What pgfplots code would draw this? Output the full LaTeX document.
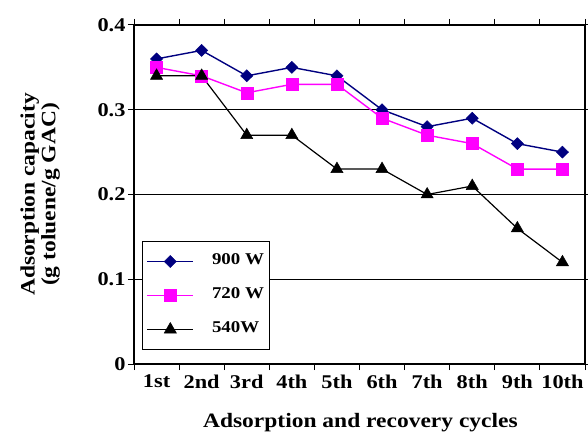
\documentclass[border=0pt]{standalone}
\usepackage{fontspec}
\setmainfont{Liberation Serif}[FakeStretch=1.15]
\usepackage{pgfplots}
\pgfplotsset{compat=1.18}
\definecolor{navyline}{HTML}{000080}
\definecolor{magline}{HTML}{FF00FF}

\begin{document}
\begin{tikzpicture}
\path[use as bounding box] (-134bp,-71bp) rectangle (454bp,364bp);
\begin{axis}[
    at={(0,0)}, anchor=south west,
    scale only axis,
    width=451bp, height=339bp,
    xmin=0.5, xmax=10.5,
    ymin=0, ymax=0.4,
    xtick={1,...,10},
    xticklabels={1st,2nd,3rd,4th,5th,6th,7th,8th,9th,10th},
    minor xtick={0.5,1.5,...,10.5},
    ytick={0,0.1,0.2,0.3,0.4},
    yticklabels={0,0.1,0.2,0.3,0.4},
    ymajorgrids,
    grid style={black, line width=1pt},
    axis line style={line width=1.2pt},
    tick align=outside,
    x tick style={draw=none},
    minor x tick style={draw=black, line width=1pt},
    minor tick length=6bp,
    y tick style={black, line width=1pt},
    major tick length=6bp,
    tick label style={font=\bfseries\fontsize{19.5}{21}\selectfont},
    /pgf/number format/assume math mode=true,
    xticklabel style={yshift=-1bp},
    yticklabel style={xshift=1bp},
    xlabel={Adsorption and recovery cycles},
    ylabel={Adsorption capacity\\(g toluene/g GAC)},
    label style={font=\bfseries\fontsize{20.5}{21}\selectfont},
    xlabel style={at={(axis description cs:0.502,-0.174)}, anchor=center},
    ylabel style={at={(axis description cs:-0.208,0.5)}, anchor=center, align=center},
    legend style={at={(axis description cs:0.018,0.3628)}, anchor=north west,
        draw=black, line width=1pt, font=\bfseries\fontsize{16.5}{18}\selectfont,
        row sep=18bp, inner xsep=4bp, inner ysep=12bp,
        nodes={inner ysep=0bp, text height=11bp, text depth=5bp}},
    legend cell align=left,
    legend image code/.code={
        \draw[mark repeat=2,mark phase=2] plot coordinates {(0bp,0bp) (23bp,0bp) (46bp,0bp)};
        \path (62bp,0bp);
    },
    clip=false,
]
\addplot[navyline, line width=1.4pt, mark=diamond*,
    mark options={solid, xscale=1.35, line width=0.5pt}, mark size=6bp]
    coordinates {(1,0.36) (2,0.37) (3,0.34) (4,0.35) (5,0.34)
                 (6,0.30) (7,0.28) (8,0.29) (9,0.26) (10,0.25)};
\addplot[magline, line width=1.4pt, mark=square*,
    mark options={solid, line width=0.5pt}, mark size=6bp]
    coordinates {(1,0.35) (2,0.34) (3,0.32) (4,0.33) (5,0.33)
                 (6,0.29) (7,0.27) (8,0.26) (9,0.23) (10,0.23)};
\addplot[black, line width=1.2pt, mark=triangle*,
    mark options={solid, line width=0.5pt}, mark size=7bp]
    coordinates {(1,0.34) (2,0.34) (3,0.27) (4,0.27) (5,0.23)
                 (6,0.23) (7,0.20) (8,0.21) (9,0.16) (10,0.12)};
\legend{900 W, 720 W, 540W}
\end{axis}
\end{tikzpicture}
\end{document}
